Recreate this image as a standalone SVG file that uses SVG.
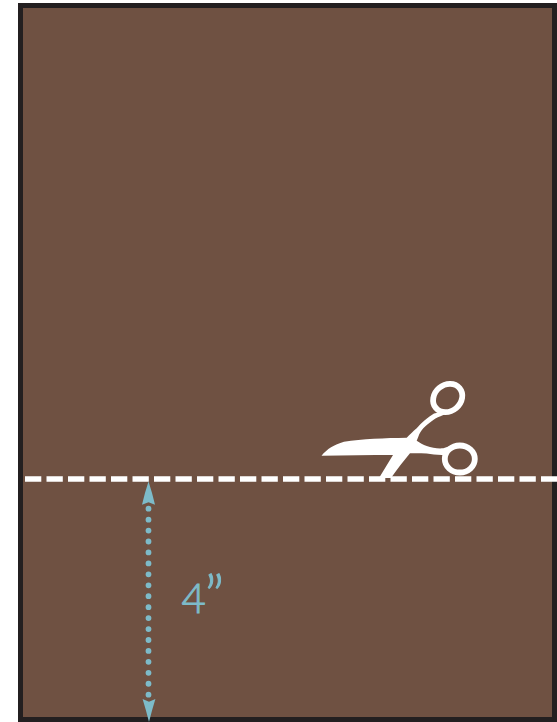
<svg xmlns="http://www.w3.org/2000/svg" width="557" height="722" viewBox="0 0 557 722">
<style>
.cut{fill:none;stroke:#fff;stroke-width:5.500;stroke-dasharray:16.300 5.200}
.dots{fill:none;stroke:#7dbbc9;stroke-width:5.800;stroke-linecap:round;stroke-dasharray:0 10.940}
.head{fill:#7dbbc9}
.ring{fill:none;stroke:#fff;stroke-width:5.800}
.lbl{font-family:Lato,'Liberation Sans',sans-serif;fill:#7dbbc9;stroke:#7dbbc9;stroke-width:1}
</style>
<rect width="557" height="722" fill="#fff"/>
<rect id="panel" x="20.500" y="5.500" width="534" height="714" fill="#6f5142" stroke="#231f20" stroke-width="5"/>
<g id="scissors">
<path fill="#fff" d="M321.500 455.700C327 449 334 444.500 344 441.700C362 438.800 385 438 406.700 437.700C410 434.500 413 431.500 416.700 428.300C419 425.500 422 422.500 425 420C428 417.500 431 415.500 434 413.500L453.300 409.300C450 412 447 413.500 443.300 415C439.500 416.500 436 418 433.300 420C429 423 426 425.500 423.300 428.300C421 431 419.500 433.500 418.300 436.700L416.700 440.700C420 443 423 444.500 426.700 446C432 448 438 448.800 443.300 448.300L450 446L444 455C437 455.300 432 454 426.700 453.500C421 453.200 415 453.200 410 453.300C404 461 397 469 391 478L379 478L393 455C370 455 345 455.600 321.500 455.700Z"/>
<ellipse class="ring" cx="447.700" cy="398" rx="15.500" ry="13.200" transform="rotate(-40 447.700 398)"/>
<ellipse class="ring" cx="459.800" cy="459" rx="15" ry="13.500"/>
</g>
<path id="cut-line" class="cut" d="M25 479H557"/>
<g id="measure">
<path class="dots" d="M148.500 508.700V695"/>
<path class="head" d="M148.500 481.500Q152 492 155 504.700L148.500 502.300L142 504.700Q145 492 148.500 481.500Z"/>
<path class="head" d="M149 722Q152 710 155.400 699L149 701.700L142.600 699Q146 710 149 722Z"/>
</g>
<g id="label">
<text class="lbl" x="181.500" y="613" font-size="42" font-weight="300">4</text>
<text class="lbl" x="204.500" y="617" font-size="58" font-weight="300">”</text>
</g>
</svg>
